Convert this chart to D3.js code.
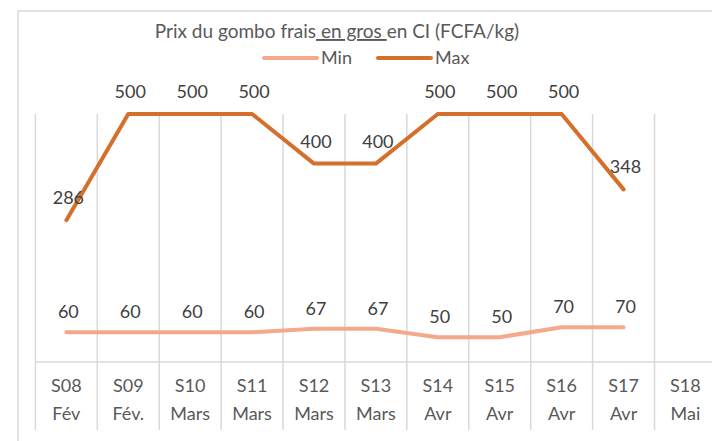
<!DOCTYPE html>
<html lang="fr">
<head>
<meta charset="UTF-8"/>
<script src="https://d3js.org/d3.v7.min.js"></script>
<style>
  body { margin: 0; background: #fff; }
  svg { display: block; font-family: Lato, "Open Sans", sans-serif; }
  .grid line { stroke: #d9d9d9; stroke-width: 1.5px; }
  .cat text { fill: #595959; font-size: 18px; }
  .lbl text { fill: #404040; font-size: 18px; }
</style>
</head>
<body>
<script>
  // données
  var semaines = ["S08", "S09", "S10", "S11", "S12", "S13", "S14", "S15", "S16", "S17", "S18"];
  var mois = ["Fév", "Fév.", "Mars", "Mars", "Mars", "Mars", "Avr", "Avr", "Avr", "Avr", "Mai"];
  var prixMin = [60, 60, 60, 60, 67, 67, 50, 50, 70, 70, null];
  var prixMax = [286, 500, 500, 500, 400, 400, 500, 500, 500, 348, null];

  var W = 712, H = 441;
  var svg = d3.select("body").append("svg").attr("width", W).attr("height", H);

  // cadre du graphique
  svg.append("rect")
    .attr("x", 18).attr("y", 11)
    .attr("width", 760).attr("height", 500)
    .attr("fill", "none").attr("stroke", "#d9d9d9").attr("stroke-width", 1.5);

  var x = d3.scaleBand().domain(semaines).range([35.4, 716.4]);
  var y = d3.scaleLinear().domain([0, 500]).range([362, 114]);

  // séparateurs verticaux
  var grid = svg.append("g").attr("class", "grid");
  grid.selectAll("line.v")
    .data(semaines)
    .enter().append("line")
    .attr("x1", function(d) { return x(d); })
    .attr("x2", function(d) { return x(d); })
    .attr("y1", y(500)).attr("y2", 430);
  grid.append("line")
    .attr("x1", x.range()[0]).attr("x2", x.range()[1])
    .attr("y1", y(0)).attr("y2", y(0));

  // libellés de catégories (2 niveaux)
  var cat = svg.append("g").attr("class", "cat");
  cat.selectAll("text.s")
    .data(semaines)
    .enter().append("text")
    .attr("x", function(d) { return x(d) + x.bandwidth() / 2; })
    .attr("y", 392)
    .attr("text-anchor", "middle")
    .text(function(d) { return d; });
  cat.selectAll("text.m")
    .data(mois)
    .enter().append("text")
    .attr("x", function(d, i) { return x(semaines[i]) + x.bandwidth() / 2; })
    .attr("y", 420)
    .attr("text-anchor", "middle")
    .text(function(d) { return d; });

  var series = [
    { name: "Min", values: prixMin, color: "#f4a98a", dy: -14 },
    { name: "Max", values: prixMax, color: "#d4702c", dy: -16 }
  ];

  var line = d3.line()
    .defined(function(d) { return d != null; })
    .x(function(d, i) { return x(semaines[i]) + x.bandwidth() / 2; })
    .y(function(d) { return y(d); });

  series.forEach(function(s) {
    svg.append("path")
      .datum(s.values)
      .attr("d", line)
      .attr("fill", "none")
      .attr("stroke", s.color)
      .attr("stroke-width", 4)
      .attr("stroke-linecap", "round")
      .attr("stroke-linejoin", "round");
  });

  var lbl = svg.append("g").attr("class", "lbl");
  series.forEach(function(s) {
    lbl.selectAll("text." + s.name)
      .data(s.values.map(function(v, i) { return { v: v, i: i }; }).filter(function(d) { return d.v != null; }))
      .enter().append("text")
      .attr("x", function(d) { return x(semaines[d.i]) + x.bandwidth() / 2 + 2; })
      .attr("y", function(d) { return y(d.v) + s.dy; })
      .attr("text-anchor", "middle")
      .text(function(d) { return d.v; });
  });

  // titre
  var title = svg.append("text")
    .attr("x", 337).attr("y", 38)
    .attr("text-anchor", "middle")
    .attr("fill", "#595959")
    .style("font-size", "19px");
  title.append("tspan").text("Prix du gombo frais");
  title.append("tspan").style("text-decoration", "underline").text(" en gros ");
  title.append("tspan").text("en CI (FCFA/kg)");

  // légende
  var leg = svg.append("g");
  var legX = [264, 378];
  series.forEach(function(s, i) {
    leg.append("line")
      .attr("x1", legX[i]).attr("x2", legX[i] + 53)
      .attr("y1", 58).attr("y2", 58)
      .attr("stroke", s.color).attr("stroke-width", 4)
      .attr("stroke-linecap", "round");
    leg.append("text")
      .attr("x", legX[i] + 57).attr("y", 64)
      .attr("fill", "#595959")
      .style("font-size", "18px")
      .text(s.name);
  });
</script>
</body>
</html>
